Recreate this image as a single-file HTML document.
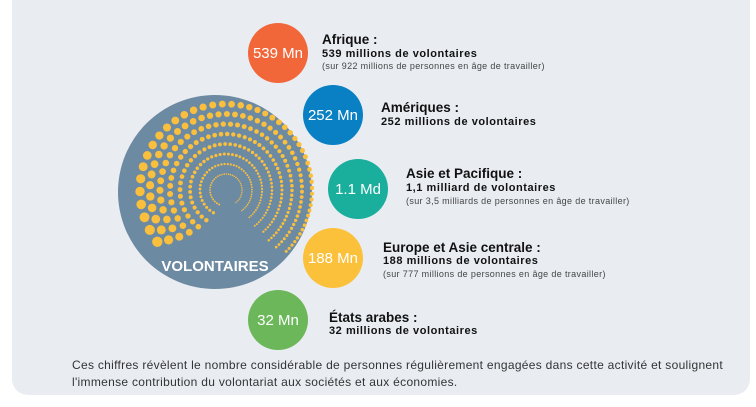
<!DOCTYPE html>
<html><head><meta charset="utf-8"><style>
body{margin:0;background:#fff;width:756px;height:402px;overflow:hidden;font-family:"Liberation Sans",sans-serif}
</style></head><body>
<svg width="756" height="402" xmlns="http://www.w3.org/2000/svg" font-family="Liberation Sans, sans-serif">
<rect x="12" y="-20" width="738" height="415" rx="16" fill="#e9edf2"/>
<circle cx="215" cy="192" r="97" fill="#6d8aa3"/>
<g id="dots" fill="#f9bf3d"></g>
<text x="215" y="271" text-anchor="middle" font-size="15" font-weight="bold" fill="#fff">VOLONTAIRES</text>

<circle cx="278" cy="53" r="30" fill="#f2673a"/>
<text x="278" y="58" text-anchor="middle" font-size="15" fill="#fff">539 Mn</text>
<circle cx="333" cy="115" r="30" fill="#0a80c4"/>
<text x="333" y="120" text-anchor="middle" font-size="15" fill="#fff">252 Mn</text>
<circle cx="358" cy="189" r="30" fill="#1aae9c"/>
<text x="358" y="194" text-anchor="middle" font-size="15" fill="#fff">1.1 Md</text>
<circle cx="333" cy="258" r="30" fill="#fcc13b"/>
<text x="333" y="263" text-anchor="middle" font-size="15" fill="#fff">188 Mn</text>
<circle cx="278" cy="320" r="30" fill="#6bb75a"/>
<text x="278" y="325" text-anchor="middle" font-size="15" fill="#fff">32 Mn</text>

<g fill="#111">
<text x="322" y="44" font-size="13.5" font-weight="bold">Afrique :</text>
<text x="322" y="57" font-size="11" font-weight="bold" letter-spacing="0.55">539 millions de volontaires</text>
<text x="322" y="69" font-size="9" fill="#444" letter-spacing="0.35">(sur 922 millions de personnes en âge de travailler)</text>
<text x="381" y="112" font-size="13.5" font-weight="bold">Amériques :</text>
<text x="381" y="125" font-size="11" font-weight="bold" letter-spacing="0.55">252 millions de volontaires</text>
<text x="406" y="178" font-size="13.5" font-weight="bold">Asie et Pacifique :</text>
<text x="406" y="191" font-size="11" font-weight="bold" letter-spacing="0.55">1,1 milliard de volontaires</text>
<text x="406" y="204" font-size="9" fill="#444" letter-spacing="0.35">(sur 3,5 milliards de personnes en âge de travailler)</text>
<text x="383" y="252" font-size="13.5" font-weight="bold">Europe et Asie centrale :</text>
<text x="383" y="264" font-size="11" font-weight="bold" letter-spacing="0.55">188 millions de volontaires</text>
<text x="383" y="277" font-size="9" fill="#444" letter-spacing="0.35">(sur 777 millions de personnes en âge de travailler)</text>
<text x="329" y="322" font-size="13.5" font-weight="bold">États arabes :</text>
<text x="329" y="334" font-size="11" font-weight="bold" letter-spacing="0.55">32 millions de volontaires</text>
<text x="72" y="369" font-size="12" fill="#333" letter-spacing="0.3">Ces chiffres révèlent le nombre considérable de personnes régulièrement engagées dans cette activité et soulignent</text>
<text x="72" y="386" font-size="12" fill="#333" letter-spacing="0.3">l'immense contribution du volontariat aux sociétés et aux économies.</text>
</g>
</svg>
<script>
var g=document.getElementById('dots'),s='',cx=226,cy=190;
for(var k=0;k<8;k++){
  var r=16+k*10, f=k/7;
  var maxr=1.0+f*4.2, minr=0.6+f*0.9;
  var start=(115+k*4)*Math.PI/180, span=(300-k*5)*Math.PI/180;
  var step=maxr*2.6/r, a=0;
  while(a<span){
    var t=a/span, dr=maxr+(minr-maxr)*t;
    var ang=start+a;
    var x=cx+r*Math.cos(ang), y=cy+r*Math.sin(ang);
    s+='<circle cx="'+x.toFixed(1)+'" cy="'+y.toFixed(1)+'" r="'+dr.toFixed(2)+'"/>';
    a+=Math.max(dr*2.7/r,0.04);
  }
}
g.innerHTML=s;
</script>
</body></html>
